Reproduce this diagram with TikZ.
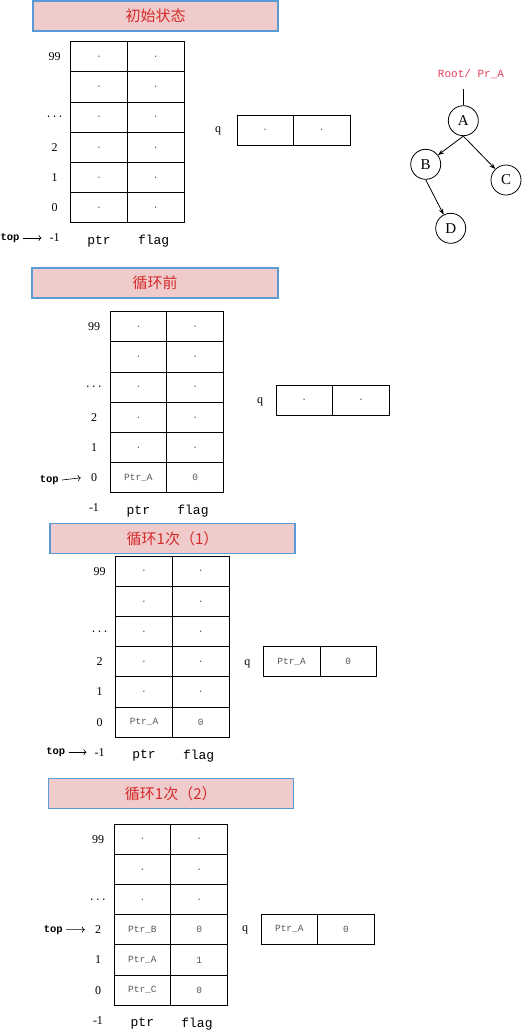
\documentclass[tikz,border=0pt]{standalone}
\usepackage{fontspec}
\setmainfont{Liberation Serif}
\newfontfamily\cjk{Noto Sans CJK SC}
\newfontfamily\monof{Liberation Mono}
\usetikzlibrary{arrows.meta}
\definecolor{titlefill}{HTML}{F0CBCB}
\definecolor{titledraw}{HTML}{5B9BD5}
\definecolor{titletext}{HTML}{D42A2A}
\definecolor{celltext}{HTML}{555555}
\definecolor{roottext}{HTML}{E0405A}
\tikzset{
 titlebox/.style={draw=titledraw, fill=titlefill, line width=1.2pt, inner sep=0pt, minimum height=30pt, font=\cjk\fontsize{15}{15}\selectfont, text=titletext},
 cellbox/.style={draw, line width=0.9pt, minimum width=56.75pt, minimum height=30.2pt, inner sep=0pt, font=\monof\fontsize{9.5}{10}\selectfont, text=celltext},
 rowlbl/.style={font=\fontsize{12}{12}\selectfont, inner sep=0pt, minimum width=12pt},
 qlbl/.style={font=\fontsize{12}{12}\selectfont, inner sep=0pt},
 collbl/.style={font=\monof\fontsize{13}{13}\selectfont, inner sep=0pt},
 toplbl/.style={font=\monof\bfseries\fontsize{10.5}{11}\selectfont, inner sep=0pt, anchor=east},
 toparrow/.style={-{To[length=3pt]}, line width=0.6pt},
 treenode/.style={draw, circle, minimum size=30pt, inner sep=0pt, line width=0.8pt, font=\fontsize{15}{15}\selectfont},
 treeedge/.style={-{Stealth[length=6pt,width=4.5pt]}, line width=0.8pt},
}
\newcommand\dotslbl{{\monof\fontsize{10}{10}\selectfont...}}
% #1 prefix, #2 left x, #3 top y, #4 list label/ptr/flag from top row
\newcommand\mkstack[4]{%
  \foreach \l/\p/\f [count=\i] in {#4} {
    \node[cellbox] (#1p\i) at ({#2+28.375}, {#3+(\i-0.5)*30.2}) {\p};
    \node[cellbox] (#1f\i) at ({#2+85.125}, {#3+(\i-0.5)*30.2}) {\f};
    \node[rowlbl] (#1l\i) at ({#2-16}, {#3+(\i-0.5)*30.2}) {\l};
  }
  \node[rowlbl] (#1lm) at ({#2-16}, {#3+181.2+15}) {-1};
  \node[collbl] (#1cp) at ({#2+28.4}, {#3+181.2+18.5}) {ptr};
  \node[collbl] (#1cf) at ({#2+83}, {#3+181.2+18.5}) {flag};
}
\begin{document}
\begin{tikzpicture}[x=1pt,y=-1pt]
\useasboundingbox (0,0) rectangle (524,1034);

% ---------- section 1 ----------
\node[titlebox, minimum width=245pt] (title1) at (155.5,16) {初始状态};
\mkstack{a}{70.7}{41.7}{99/./., /./., \dotslbl/./., 2/./., 1/./., 0/./.}
\node[toplbl] (top1) at (19.7,237.9) {top};
\draw[toparrow] ([xshift=3pt]top1.east) -- ([xshift=-7pt]alm.west);
\node[qlbl] (q1) at (218,131) {q};
\node[cellbox, minimum width=56.5pt, minimum height=30pt] (q1p) at (265.2,130) {.};
\node[cellbox, minimum width=56.5pt, minimum height=30pt] (q1f) at (321.8,130) {.};

% tree
\node[font=\monof\fontsize{11}{11}\selectfont, text=roottext, inner sep=0pt] (root) at (471,74) {Root/ Pr\_A};
\coordinate (rootc) at (463.3,89);
\node[treenode] (A) at (463.3,120.7) {A};
\node[treenode] (B) at (425.7,164.3) {B};
\node[treenode] (C) at (506,180) {C};
\node[treenode] (D) at (450.7,228.3) {D};
\draw[line width=0.8pt] (rootc) -- (A.north);
\draw[treeedge] (A.south) -- (B);
\draw[treeedge] (A.south) -- (C);
\draw[treeedge] (B.south) -- (D);

% ---------- section 2 ----------
\node[titlebox, minimum width=246pt] (title2) at (155,283) {循环前};
\mkstack{b}{110}{311.7}{99/./., /./., \dotslbl/./., 2/./., 1/./., 0/Ptr\_A/0}
\node[toplbl] (top2) at (59,480) {top};
\draw[toparrow] ([xshift=3pt]top2.east) -- ([xshift=-7pt]bl6.west);
\node[qlbl] (q2) at (260,402) {q};
\node[cellbox, minimum width=56.7pt, minimum height=30pt] (q2p) at (304.3,400) {.};
\node[cellbox, minimum width=56.7pt, minimum height=30pt] (q2f) at (361,400) {.};

% ---------- section 3 ----------
\node[titlebox, minimum width=245pt] (title3) at (172.5,538.3) {循环1次（1）};
\mkstack{c}{115.7}{556}{99/./., /./., \dotslbl/./., 2/./., 1/./., 0/Ptr\_A/0}
\node[toplbl] (top3) at (65.5,752.2) {top};
\draw[toparrow] ([xshift=3pt]top3.east) -- ([xshift=-7pt]clm.west);
\node[qlbl] (q3) at (247.3,664) {q};
\node[cellbox, minimum width=56.7pt, minimum height=30pt] (q3p) at (291.6,661.7) {Ptr\_A};
\node[cellbox, minimum width=56.7pt, minimum height=30pt] (q3f) at (348.3,661.7) {0};

% ---------- section 4 ----------
\node[titlebox, minimum width=245pt] (title4) at (170.8,793.7) {循环1次（2）};
\mkstack{d}{114}{824}{99/./., /./., \dotslbl/./., 2/Ptr\_B/0, 1/Ptr\_A/1, 0/Ptr\_C/0}
\node[toplbl] (top4) at (63,929.6) {top};
\draw[toparrow] ([xshift=3pt]top4.east) -- ([xshift=-7pt]dl4.west);
\node[qlbl] (q4) at (245,930) {q};
\node[cellbox, minimum width=56.7pt, minimum height=30pt] (q4p) at (289.3,929.2) {Ptr\_A};
\node[cellbox, minimum width=56.7pt, minimum height=30pt] (q4f) at (346,929.2) {0};
\end{tikzpicture}
\end{document}
